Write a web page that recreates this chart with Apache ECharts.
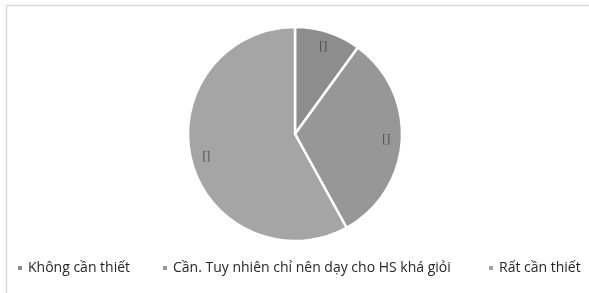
<!DOCTYPE html>
<html>
<head>
<meta charset="utf-8">
<script src="https://cdn.jsdelivr.net/npm/echarts@6/dist/echarts.min.js"></script>
<style>
  html, body { margin: 0; padding: 0; background: #fff; }
  #chart { width: 589px; height: 293px; }
</style>
</head>
<body>
<div id="chart"></div>
<script>
var categories = ['Không cần thiết', 'Cần. Tuy nhiên chỉ nên dạy cho HS khá giỏi', 'Rất cần thiết'];
var values = [10, 32, 58];
var sliceColors = ['#8d8d8d', '#979797', '#a5a5a5'];
var legendLeft = [16, 161, 487];

var chart = echarts.init(document.getElementById('chart'));

var pieData = categories.map(function (name, i) {
  return { name: name, value: values[i], itemStyle: { color: sliceColors[i] } };
});

var legends = categories.map(function (name, i) {
  return {
    data: [name],
    left: legendLeft[i],
    top: 261,
    padding: 0,
    icon: 'rect',
    itemWidth: 6,
    itemHeight: 6,
    itemGap: 0,
    selectedMode: false,
    textStyle: { fontFamily: 'Open Sans', fontSize: 14, color: '#262626' }
  };
});

var option = {
  animation: false,
  graphic: [{
    type: 'rect',
    shape: { x: 6.5, y: 5.5, width: 620, height: 320 },
    style: { fill: 'none', stroke: '#d9d9d9', lineWidth: 1.5 },
    silent: true
  }],
  legend: legends,
  series: [
    {
      type: 'pie',
      center: [295, 134],
      radius: [0, 107],
      startAngle: 90,
      clockwise: true,
      data: pieData,
      itemStyle: { borderColor: '#fff', borderWidth: 2.5 },
      label: { show: false },
      labelLine: { show: false },
      emphasis: { disabled: true }
    },
    {
      // transparent ring, only used to place the labels near the rim
      type: 'pie',
      center: [295, 134],
      radius: [70, 107],
      startAngle: 90,
      clockwise: true,
      silent: true,
      legendHoverLink: false,
      data: categories.map(function (name, i) {
        return { name: name, value: values[i], itemStyle: { color: 'rgba(0,0,0,0)' } };
      }),
      label: {
        show: true,
        position: 'inside',
        formatter: '[]',
        color: '#4d4d4d',
        fontSize: 12,
        fontFamily: 'Liberation Sans Narrow'
      },
      labelLine: { show: false }
    }
  ]
};

chart.setOption(option);
</script>
</body>
</html>
